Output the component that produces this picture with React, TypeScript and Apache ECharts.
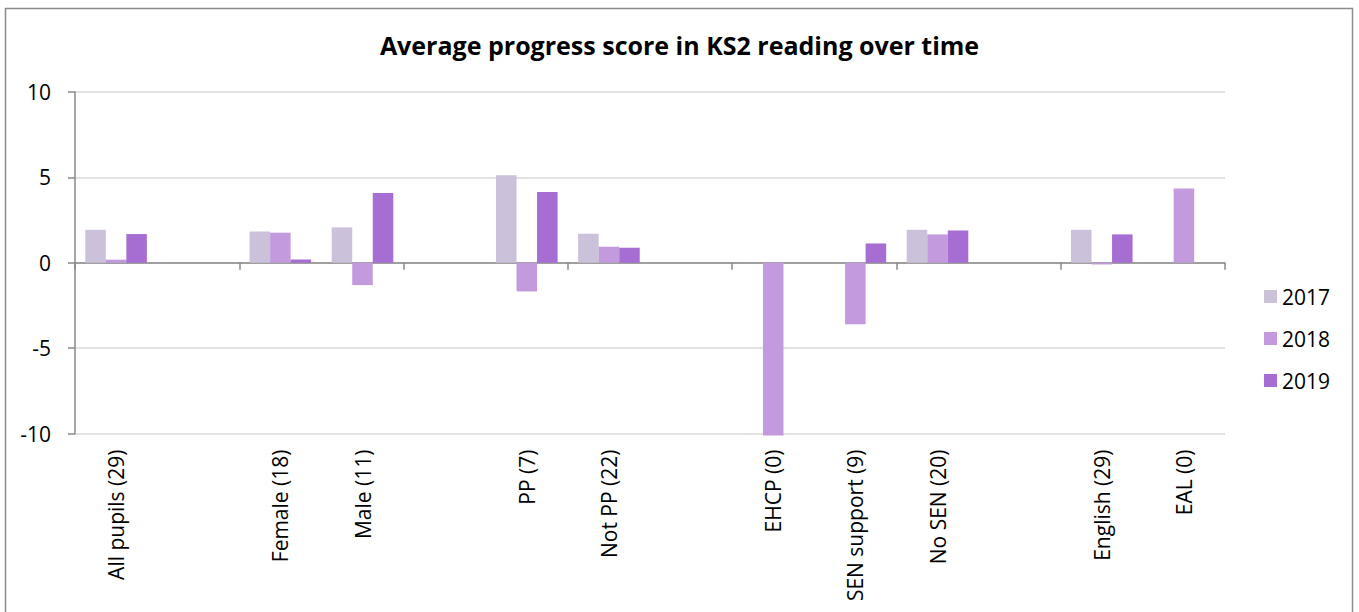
import React, { useEffect, useRef } from "react";
import * as echarts from "echarts";

const categories = [
  "All pupils (29)", "", "Female (18)", "Male (11)", "", "PP (7)", "Not PP (22)", "",
  "EHCP (0)", "SEN support (9)", "No SEN (20)", "", "English (29)", "EAL (0)",
];
const seriesNames = ["2017", "2018", "2019"];
const values2017 = [1.93, null, 1.83, 2.07, null, 5.13, 1.7, null, null, null, 1.93, null, 1.93, null];
const values2018 = [0.18, null, 1.76, -1.31, null, -1.68, 0.94, null, -10.12, -3.6, 1.66, null, -0.1, 4.35];
const values2019 = [1.68, null, 0.19, 4.08, null, 4.14, 0.88, null, null, 1.13, 1.89, null, 1.66, null];
const colors = ["#ccc1da", "#c39ade", "#a66dd3"];
const yTicks = { min: -10, max: 10, interval: 5 };

const FONT = "'Open Sans', 'Noto Sans', sans-serif";

export default function App() {
  const ref = useRef<HTMLDivElement>(null);
  useEffect(() => {
    if (!ref.current) return;
    const chart = echarts.init(ref.current, undefined, { renderer: "svg" });
    const allValues = [values2017, values2018, values2019];
    chart.setOption({
      animation: false,
      backgroundColor: "#ffffff",
      textStyle: { fontFamily: FONT },
      title: {
        text: "Average progress score in KS2 reading over time",
        left: "center",
        top: 27,
        textStyle: { fontFamily: FONT, fontSize: 25, fontWeight: "bold", color: "#000000" },
      },
      graphic: [
        {
          type: "rect",
          shape: { x: 5.5, y: 8.5, width: 1347, height: 620 },
          style: { fill: "none", stroke: "#8c8c8c", lineWidth: 1.5 },
          silent: true,
        },
      ],
      legend: {
        orient: "vertical",
        left: 1259,
        top: 281,
        itemWidth: 13,
        itemHeight: 13,
        itemGap: 21,
        icon: "rect",
        textStyle: { fontFamily: FONT, fontSize: 21, color: "#000000" },
        data: seriesNames,
      },
      grid: { left: 75, right: 134, top: 92, bottom: 178.5, containLabel: false },
      xAxis: [
        {
          type: "category",
          data: categories,
          position: "bottom",
          boundaryGap: true,
          axisLine: { onZero: true, lineStyle: { color: "#898989", width: 1.5 } },
          axisTick: { show: true, length: 7, alignWithLabel: false, lineStyle: { color: "#898989", width: 1.5 } },
          axisLabel: { show: false },
          splitLine: { show: false },
        },
        {
          type: "category",
          data: categories,
          position: "bottom",
          boundaryGap: true,
          axisLine: { show: false, onZero: false },
          axisTick: { show: false },
          axisLabel: {
            show: true,
            interval: 0,
            rotate: 90,
            margin: 16,
            fontFamily: FONT,
            fontSize: 21,
            color: "#000000",
          },
          splitLine: { show: false },
        },
      ],
      yAxis: {
        type: "value",
        min: yTicks.min,
        max: yTicks.max,
        interval: yTicks.interval,
        axisLine: { show: true, onZero: false, lineStyle: { color: "#898989", width: 1.5 } },
        axisTick: { show: true, length: 7, lineStyle: { color: "#898989", width: 1.5 } },
        axisLabel: { fontFamily: FONT, fontSize: 21, color: "#000000", margin: 24 },
        splitLine: { show: true, lineStyle: { color: "#d9d9d9", width: 1.5 } },
      },
      series: seriesNames.map((name, i) => ({
        name,
        type: "bar",
        xAxisIndex: 0,
        data: allValues[i],
        barGap: "0%",
        barCategoryGap: "25%",
        clip: false,
        itemStyle: { color: colors[i] },
      })),
    });
    return () => chart.dispose();
  }, []);
  return (
    <div
      ref={ref}
      style={{ position: "fixed", left: 0, top: 0, width: 1359, height: 612 }}
    />
  );
}
